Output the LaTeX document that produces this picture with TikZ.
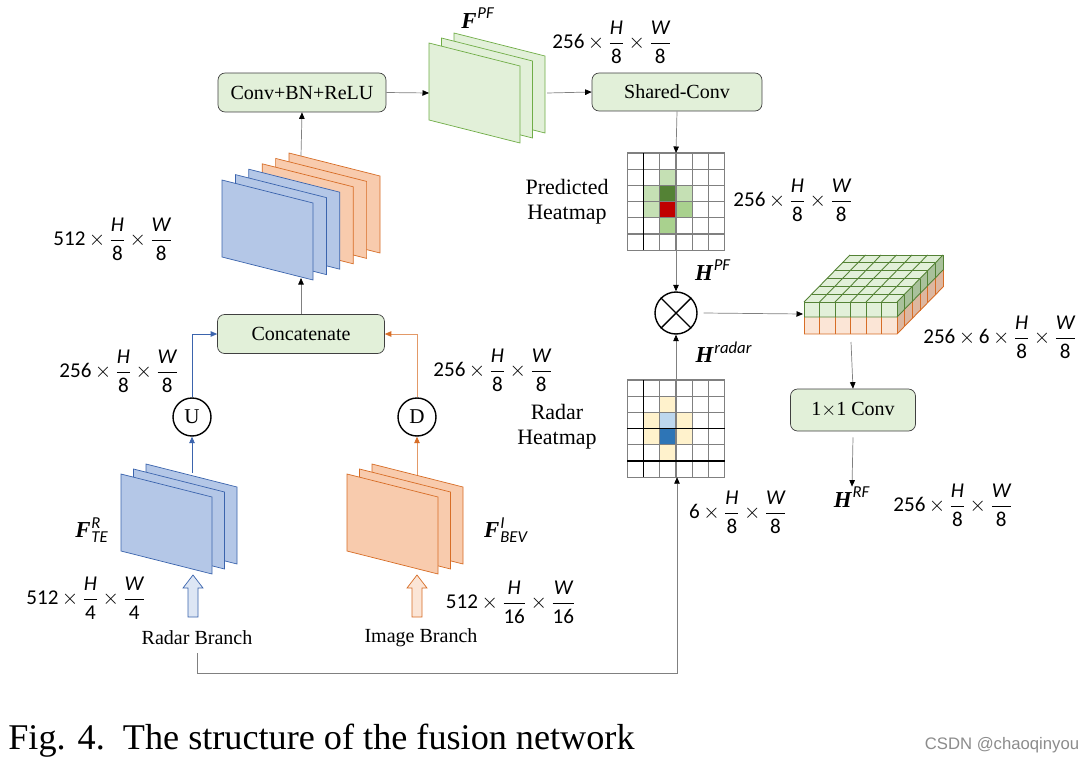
\documentclass[tikz,border=0pt]{standalone}
\usepackage{amsmath}
\usepackage{fontspec}
\setmainfont{Liberation Serif}
\newfontfamily\dimfont{Carlito}
\newfontfamily\markfont{Liberation Sans}
\usetikzlibrary{arrows.meta}

\definecolor{boxgreen}{HTML}{E2F0D9}
\definecolor{linegreen}{HTML}{70AD47}
\definecolor{darkgreen}{HTML}{548235}
\definecolor{plateblue}{HTML}{B4C7E7}
\definecolor{lineblue}{HTML}{3B64AD}
\definecolor{plateorange}{HTML}{F8CBAD}
\definecolor{lineorange}{HTML}{D76D26}
\definecolor{lightorange}{HTML}{FBE5D6}
\definecolor{heatlight}{HTML}{C5E0B4}
\definecolor{heatmid}{HTML}{A9D18E}
\definecolor{heatred}{HTML}{C00000}
\definecolor{heatyellow}{HTML}{FFF2CC}
\definecolor{heatlblue}{HTML}{BDD7EE}
\definecolor{heatblue}{HTML}{2E75B6}
\definecolor{sidegreen}{HTML}{A9C19B}
\definecolor{sideorange}{HTML}{DDB7A0}

\newcommand{\fr}[2]{\dfrac{\mbox{\itshape #1}}{\mbox{#2}}}
\newcommand{\tms}{\mskip3mu{\times}\mskip3mu}
\newcommand{\supfont}{\dimfont\fontsize{9.5}{10}\selectfont\itshape}
\newcommand{\feat}[2]{$\mbox{\bfseries\itshape #1}^{\mkern1mu\mbox{\supfont #2}}$}

\tikzset{
  op/.style={draw=black!75, fill=boxgreen, rounded corners=4pt, inner sep=0pt,
    font=\fontsize{11.4}{13}\selectfont},
  dim/.style={font=\dimfont\fontsize{12}{14}\selectfont, inner sep=0pt},
  lbl/.style={font=\fontsize{12.5}{14}\selectfont, align=center, inner sep=0pt},
  featlbl/.style={font=\fontsize{13}{15}\selectfont, inner sep=0pt},
  ring/.style={circle, draw, line width=0.8pt, inner sep=0pt, font=\fontsize{12}{14}\selectfont},
  flow/.style={draw=black!50, -{Triangle[length=1.3mm,width=1.1mm,color=black]}},
  blueflow/.style={draw=lineblue, -{Triangle[length=1.3mm,width=1.1mm]}},
  orangeflow/.style={draw=lineorange!70, -{Triangle[length=1.3mm,width=1.1mm,color=lineorange]}},
  greensheet/.style={draw=linegreen, fill=boxgreen},
  bluesheet/.style={draw=lineblue, fill=plateblue},
  orangesheet/.style={draw=lineorange, fill=plateorange},
  cellline/.style={draw=black!50, line width=0.6pt},
}

\begin{document}
\begin{tikzpicture}[x=0.02cm, y=-0.02cm]
        \fill[white] (0,0) rectangle (1088,761);
        \useasboundingbox (0,0) rectangle (1088,761);

        % Feature sheets
        \foreach \i in {2,1,0}
            \draw[greensheet] (429+\i*12.5, 43-\i*5) -- ++(91,23) -- ++(0,77) -- ++(-91,-23) -- cycle;
        \foreach \i/\s in {5/orangesheet,4/orangesheet,3/orangesheet,2/bluesheet,1/bluesheet,0/bluesheet}
            \draw[\s] (222+\i*13.4, 180-\i*5.4) -- ++(91,23) -- ++(0,77) -- ++(-91,-23) -- cycle;
        \foreach \i in {2,1,0}
            \draw[bluesheet] (121+\i*12.5, 474-\i*5) -- ++(91,23) -- ++(0,77) -- ++(-91,-23) -- cycle;
        \foreach \i in {2,1,0}
            \draw[orangesheet] (347+\i*12.5, 474-\i*5) -- ++(91,23) -- ++(0,77) -- ++(-91,-23) -- cycle;

        % Branch arrows
        \draw[draw=lineblue, fill=plateblue!45] (188,617) -- (188,588) -- (183,588) -- (193,575)
            -- (203,588) -- (198,588) -- (198,617) -- cycle;
        \draw[draw=lineorange, fill=lightorange] (412,617) -- (412,588) -- (407,588) -- (417,575)
            -- (427,588) -- (422,588) -- (422,617) -- cycle;

        % Heatmaps
        \foreach \r/\c/\col in {1/2/heatlight, 2/1/heatlight, 2/2/darkgreen, 2/3/heatlight,
                3/1/heatlight, 3/2/heatred, 3/3/heatmid, 4/2/heatmid}
            \fill[\col] (627.4+\c*16.2, 153+\r*16.2) rectangle ++(16.2,16.2);
        \foreach \r/\c/\col in {1/2/heatyellow, 2/1/heatyellow, 2/2/heatlblue, 2/3/heatyellow,
                3/1/heatyellow, 3/2/heatblue, 3/3/heatyellow, 4/2/heatyellow}
            \fill[\col] (627.4+\c*16.2, 380+\r*16.2) rectangle ++(16.2,16.2);
        \foreach \k in {0,...,6} {
            \draw[cellline] (627.4+\k*16.2, 153) -- ++(0,97.2);
            \draw[cellline] (627.4, 153+\k*16.2) -- ++(97.2,0);
            \draw[cellline] (627.4+\k*16.2, 380) -- ++(0,97.2);
            \draw[cellline] (627.4, 380+\k*16.2) -- ++(97.2,0);
        }
        \draw[black, line width=0.6pt] (643.6,153) -- ++(0,97.2);
        \draw[black, line width=0.6pt] (643.6,380) -- ++(0,97.2);
        \draw[black, line width=0.6pt] (627.4,428.6) -- ++(97.2,0);
        \draw[black, line width=0.6pt] (627.4,461) -- ++(97.2,0);

        % Fused block
        \fill[boxgreen] (804,302) -- (897,302) -- (943,255) -- (850,255) -- cycle;
        \fill[boxgreen] (804,302) rectangle (897,317);
        \fill[lightorange] (804,317) rectangle (897,334);
        \fill[sidegreen] (897,302) -- (943,255) -- (943,270) -- (897,317) -- cycle;
        \fill[sideorange] (897,317) -- (943,270) -- (943,287) -- (897,334) -- cycle;
        \foreach \k in {0,...,6} {
            \draw[darkgreen, line width=0.5pt] (804+\k*15.5, 302) -- ++(46,-47);
            \draw[darkgreen, line width=0.5pt] (804+\k*7.67, 302-\k*7.83) -- ++(93,0);
            \draw[darkgreen, line width=0.5pt] (804+\k*15.5, 302) -- ++(0,15);
            \draw[lineorange, line width=0.5pt] (804+\k*15.5, 317) -- ++(0,17);
            \draw[darkgreen, line width=0.5pt] (897+\k*7.67, 302-\k*7.83) -- ++(0,15);
            \draw[lineorange, line width=0.5pt] (897+\k*7.67, 317-\k*7.83) -- ++(0,17);
        }
        \draw[darkgreen, line width=0.5pt] (804,317) -- (897,317) -- (943,270);
        \draw[lineorange, line width=0.5pt] (804,334) -- (897,334) -- (943,287);

        % Nodes
        \node[op, minimum width=3.36cm, minimum height=0.78cm] (conv) at (302,92.5) {Conv+BN+ReLU};
        \node[op, minimum width=3.4cm, minimum height=0.76cm] (shared) at (677,92) {Shared-Conv};
        \node[op, minimum width=3.34cm, minimum height=0.78cm] (concat) at (301,334) {Concatenate};
        \node[op, minimum width=2.5cm, minimum height=0.84cm] (oneconv) at (853,410) {1$\times$1 Conv};
        \node[ring, minimum size=0.84cm] (mult) at (676,313) {};
        \draw[line width=0.8pt] (mult.north west) -- (mult.south east);
        \draw[line width=0.8pt] (mult.north east) -- (mult.south west);
        \node[ring, minimum size=0.76cm] (usamp) at (192,417) {U};
        \node[ring, minimum size=0.76cm] (dsamp) at (417,417) {D};

        \node[featlbl] (fpf) at (478,18) {\feat{F}{PF}};
        \node[featlbl] (hpf) at (713,270) {\feat{H}{PF}};
        \node[featlbl] (hradar) at (724,352) {\feat{H}{radar}};
        \node[featlbl] (hrf) at (852,497) {\feat{H}{RF}};
        \node[featlbl] (fte) at (92,530) {$\mbox{\bfseries\itshape F}^{\mkern1mu\mbox{\supfont R}}_{\mkern1mu\mbox{\supfont TE}}$};
        \node[featlbl] (fbev) at (506,530) {$\mbox{\bfseries\itshape F}^{\mkern1mu\mbox{\supfont I}}_{\mkern1mu\mbox{\supfont BEV}}$};

        \node[lbl] (predlbl) at (567,202) {Predicted\\Heatmap};
        \node[lbl] (radarlbl) at (557,427) {Radar\\Heatmap};
        \node[font=\fontsize{11.4}{13}\selectfont, inner sep=0pt] (rbranch) at (197,638) {Radar Branch};
        \node[font=\fontsize{11.4}{13}\selectfont, inner sep=0pt] (ibranch) at (421,638) {Image Branch};

        \node[dim] (dimpf) at (612,42) {$\mbox{256}\tms\fr{H}{8}\tms\fr{W}{8}$};
        \node[dim] (dimpred) at (793,200) {$\mbox{256}\tms\fr{H}{8}\tms\fr{W}{8}$};
        \node[dim] (dimblock) at (1000,337) {$\mbox{256}\tms\mbox{6}\tms\fr{H}{8}\tms\fr{W}{8}$};
        \node[dim] (dimrf) at (953,505) {$\mbox{256}\tms\fr{H}{8}\tms\fr{W}{8}$};
        \node[dim] (dimradar) at (738,512) {$\mbox{6}\tms\fr{H}{8}\tms\fr{W}{8}$};
        \node[dim] (dimcat) at (113,239) {$\mbox{512}\tms\fr{H}{8}\tms\fr{W}{8}$};
        \node[dim] (dimup) at (119,371) {$\mbox{256}\tms\fr{H}{8}\tms\fr{W}{8}$};
        \node[dim] (dimdown) at (493,370) {$\mbox{256}\tms\fr{H}{8}\tms\fr{W}{8}$};
        \node[dim] (dimte) at (86,598) {$\mbox{512}\tms\fr{H}{4}\tms\fr{W}{4}$};
        \node[dim] (dimbev) at (511,602) {$\mbox{512}\tms\fr{H}{16}\tms\fr{W}{16}$};

        \node[anchor=west, inner sep=0pt, font=\fontsize{20.6}{24}\selectfont] (caption) at (8,741)
            {Fig. 4.\ \ The structure of the fusion network};
        \node[inner sep=0pt, text=black!45, font=\markfont\fontsize{9.5}{11}\selectfont] (mark) at (1002,745)
            {CSDN @chaoqinyou};

        % Coordinates
        \coordinate (fpf in) at (429,93);
        \coordinate (fpf out) at (547,93);
        \coordinate (pred top) at (676,153);
        \coordinate (pred bot) at (676,250.2);
        \coordinate (radar top) at (676,380);
        \coordinate (radar bot) at (677,477.2);
        \coordinate (block in) at (803,314);
        \coordinate (block out) at (851,337);
        \coordinate (cat top) at (301,156);
        \coordinate (cat bot) at (301,278);
        \coordinate (te top) at (192,473);
        \coordinate (bev top) at (417,475);
        \coordinate (fb start) at (197,653);
        \coordinate (fb corner) at (677,673);

        % Lines
        \draw[flow] (conv.east) -- (fpf in);
        \draw[flow] (fpf out) -- (shared.west);
        \draw[flow] (shared.south) -- (pred top);
        \draw[flow] (pred bot) -- (mult.north);
        \draw[flow] (radar top) -- (mult.south);
        \draw[flow] (mult.east) ++(6,0) -- (block in);
        \draw[flow] (block out) ++(0,5) -- (oneconv.north);
        \draw[flow] (oneconv.south) ++(0,6) -- (hrf.north);
        \draw[flow] (cat top) -- (conv.south);
        \draw[flow] (concat.north) -- (cat bot);
        \draw[blueflow] (te top) -- (usamp.south);
        \draw[orangeflow] (bev top) -- (dsamp.south);
        \draw[blueflow] (usamp.north) |- (concat.west);
        \draw[orangeflow] (dsamp.north) |- (concat.east);
        \draw[flow] (fb start) |- (fb corner) -- (radar bot);
    \end{tikzpicture}
\end{document}
